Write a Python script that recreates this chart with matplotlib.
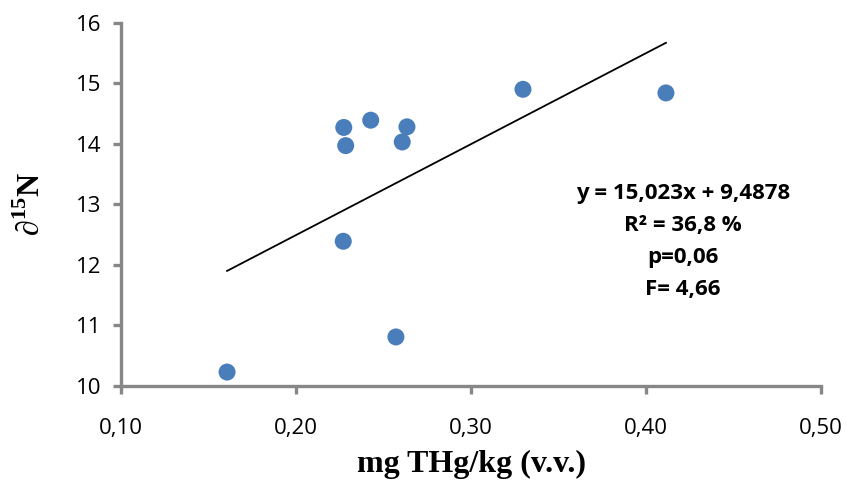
import matplotlib
matplotlib.use("Agg")
import matplotlib.pyplot as plt
import numpy as np

# Data
thg = [0.1606, 0.2273, 0.2284, 0.2270, 0.2427, 0.2634, 0.2607, 0.2571, 0.3297, 0.4114]
d15n = [10.23, 14.27, 13.97, 12.39, 14.39, 14.28, 14.03, 10.81, 14.90, 14.84]
slope = 15.023
intercept = 9.4878
stats_lines = ["y = 15,023x + 9,4878", "R² = 36,8 %", "p=0,06", "F= 4,66"]
xticks = [0.10, 0.20, 0.30, 0.40, 0.50]
xtick_labels = ["0,10", "0,20", "0,30", "0,40", "0,50"]
yticks = [10, 11, 12, 13, 14, 15, 16]

plt.rcParams['mathtext.fontset'] = 'custom'
plt.rcParams['mathtext.rm'] = 'Liberation Serif:bold'
plt.rcParams['mathtext.bf'] = 'Liberation Serif:bold'

fig = plt.figure(figsize=(8.47, 4.82), dpi=100)
ax = fig.add_axes([121/847, 1-386/482, (821-121)/847, (386-22.7)/482])

ax.scatter(thg, d15n, s=150, color='#4A7EBB', edgecolors='none', zorder=3)
xl = np.array([min(thg), max(thg)])
ax.plot(xl, slope*xl + intercept, color='black', lw=1.3, zorder=2)

ax.set_xlim(0.10, 0.50)
ax.set_ylim(10, 16)
ax.set_xticks(xticks)
ax.set_xticklabels(xtick_labels)
ax.set_yticks(yticks)

gray = '#878787'
for s in ['top', 'right']:
    ax.spines[s].set_visible(False)
for s in ['left', 'bottom']:
    ax.spines[s].set_color(gray)
    ax.spines[s].set_linewidth(2.4)
ax.tick_params(axis='both', colors=gray, width=2.4, length=6, labelcolor='black',
               labelsize=16)
ax.tick_params(axis='x', pad=17)
ax.tick_params(axis='y', pad=8)
for lab in ax.get_xticklabels() + ax.get_yticklabels():
    lab.set_fontfamily('Open Sans')

ax.set_xlabel("mg THg/kg (v.v.)", fontfamily='Liberation Serif', fontweight='bold',
              fontsize=23, labelpad=8)
ax.set_ylabel(r"∂$^{15}$N", fontfamily='Liberation Serif', fontweight='bold',
              fontsize=23, labelpad=22)

ax.text(0.421, 12.38, "\n".join(stats_lines), ha='center', va='center',
        fontfamily='Open Sans', fontweight='bold', fontsize=16, linespacing=1.69)

fig.savefig("out.png", dpi=100)
